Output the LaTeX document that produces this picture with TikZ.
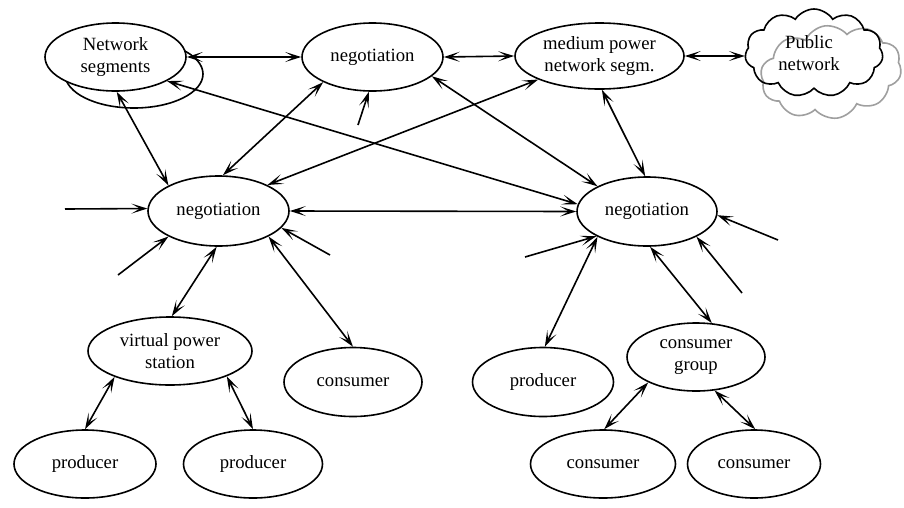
\documentclass[tikz,border=0pt]{standalone}
\usepackage{fontspec}
\setmainfont{Liberation Serif}
\usetikzlibrary{shapes.geometric,shapes.symbols,arrows.meta}
\tikzset{
  >={Stealth[length=16pt,width=10pt,inset=8.5pt]},
  ell/.style={ellipse, draw, line width=1.6pt, inner sep=0pt, align=center,
    font=\fontsize{18.7}{22}\selectfont, minimum height=68pt},
  conn/.style={line width=1.6pt},
  lbl/.style={align=center, inner sep=0pt, font=\fontsize{18.7}{22}\selectfont}
}
\begin{document}
\begin{tikzpicture}[x=1pt,y=-1pt]
\useasboundingbox (0,0) rectangle (904,507);
% top row
\node[ell, minimum width=138pt] (nsb) at (134,74) {};
\node[ell, fill=white, minimum width=141pt] (ns) at (115.5,57) {Network\\segments};
\node[ell, minimum width=141pt] (T) at (372.5,57) {negotiation};
\node[ell, minimum width=169pt, minimum height=66pt] (M) at (599.5,56) {medium power\\network segm.};
\node[cloud, draw=gray!75, line width=1.6pt, cloud puffs=10, cloud puff arc=115, cloud ignores aspect,
  minimum width=142pt, minimum height=93pt, rotate=8] (pubb) at (831,72) {};
\node[cloud, draw, line width=1.6pt, cloud puffs=11, cloud puff arc=115, cloud ignores aspect,
  minimum width=138pt, minimum height=88pt] (pub) at (814,53) {};
\node[lbl] (pubtext) at (809,53) {Public\\network};
% middle row
\node[ell, minimum width=141pt, minimum height=70pt] (L) at (218.5,211) {negotiation};
\node[ell, minimum width=140pt, minimum height=69pt] (R) at (647,211.5) {negotiation};
% lower rows
\node[ell, minimum width=164pt] (V) at (170,351) {virtual power\\station};
\node[ell, minimum width=138pt, minimum height=69pt] (C1) at (353,382) {consumer};
\node[ell, minimum width=142pt] (P1) at (85,464) {producer};
\node[ell, minimum width=139pt] (P2) at (253,464) {producer};
\node[ell, minimum width=141pt, minimum height=69pt] (PR) at (543,382) {producer};
\node[ell, minimum width=138pt] (CG) at (696,357) {consumer\\group};
\node[ell, minimum width=145pt] (C2) at (603,464) {consumer};
\node[ell, minimum width=133pt] (C3) at (754,464) {consumer};
% free ends
\coordinate (fT) at (358,125);
\coordinate (fL1) at (65,209);
\coordinate (fL2) at (118,275);
\coordinate (fL3) at (330,255);
\coordinate (fR1) at (778,240);
\coordinate (fR2) at (525,257);
\coordinate (fR3) at (742,293);
% double connectors
\draw[conn,<->] (ns.east) -- (T.west);
\draw[conn,<->] (T.east) -- (M.west);
\draw[conn,<->] (M.east) -- (M.east -| pub.west);
\draw[conn,<->] (ns.-88) -- (L.153);
\draw[conn,<->] (ns.-25.5) -- (R.174);
\draw[conn,<->] (T.207) -- (L.83);
\draw[conn,<->] (T.-18) -- (R.153);
\draw[conn,<->] (M.201) -- (L.28);
\draw[conn,<->] (M.-86) -- (R.93);
\draw[conn,<->] (L.east) -- (R.west);
\draw[conn,<->] (L.267.5) -- (V.87);
\draw[conn,<->] (L.-27) -- (C1.90);
\draw[conn,<->] (R.207) -- (PR.87);
\draw[conn,<->] (R.275) -- (CG.65);
\draw[conn,<->] (V.205) -- (P1.90);
\draw[conn,<->] (V.-24) -- (P2.90);
\draw[conn,<->] (CG.208) -- (C2.88);
\draw[conn,<->] (CG.-61.5) -- (C3.88);
% single connectors
\draw[conn,->] (fT) -- (T.264.5);
\draw[conn,->] (fL1) -- (L.178);
\draw[conn,->] (fL2) -- (L.207);
\draw[conn,->] (fL3) -- (L.-15);
\draw[conn,->] (fR1) -- (R.-3);
\draw[conn,->] (fR2) -- (R.206);
\draw[conn,->] (fR3) -- (R.-27.5);
\end{tikzpicture}
\end{document}
